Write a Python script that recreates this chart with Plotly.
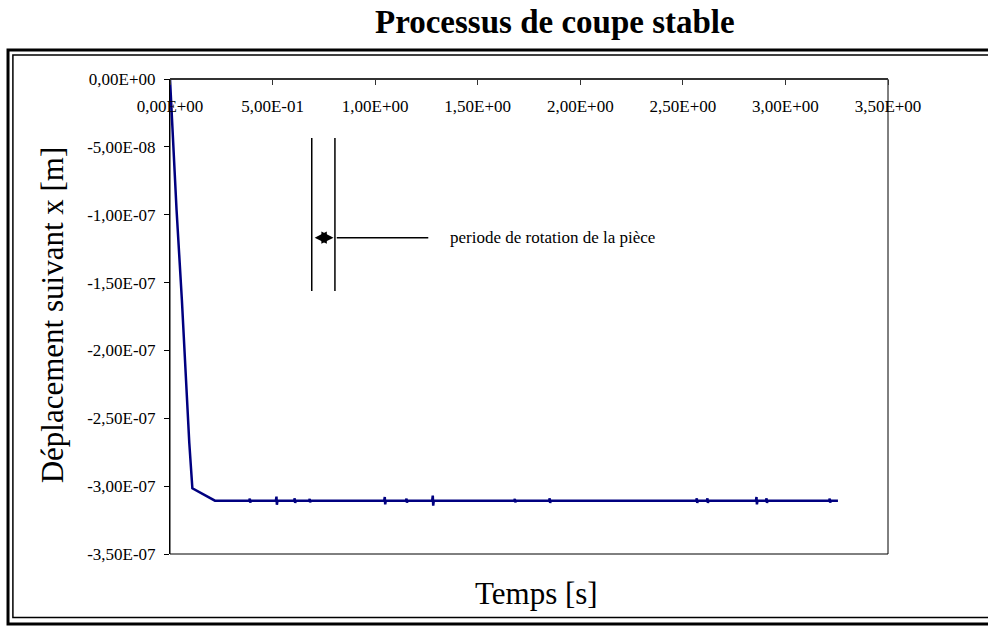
import plotly.graph_objects as go

# ---- data (time in s, displacement in m) ----
time_s = [0.000, 0.032, 0.058, 0.073, 0.094, 0.109, 0.219,
          0.386, 0.389, 0.391, 0.394,
          0.516, 0.519, 0.521, 0.524,
          0.605, 0.608, 0.610, 0.613,
          0.678, 0.681, 0.683, 0.686,
          1.044, 1.047, 1.049, 1.052,
          1.150, 1.153, 1.155, 1.158,
          1.278, 1.281, 1.283, 1.286,
          1.678, 1.681, 1.683, 1.686,
          1.848, 1.851, 1.853, 1.856,
          2.565, 2.568, 2.570, 2.573,
          2.617, 2.620, 2.622, 2.625,
          2.856, 2.859, 2.861, 2.864,
          2.905, 2.908, 2.910, 2.913,
          3.213, 3.216, 3.218, 3.221,
          3.256]
displacement_m = [0.0, -0.965e-07, -1.63e-07, -2.07e-07, -2.68e-07, -3.016e-07, -3.107e-07,
                  -3.107e-07, -3.092e-07, -3.122e-07, -3.107e-07,
                  -3.107e-07, -3.077e-07, -3.137e-07, -3.107e-07,
                  -3.107e-07, -3.090e-07, -3.124e-07, -3.107e-07,
                  -3.107e-07, -3.094e-07, -3.120e-07, -3.107e-07,
                  -3.107e-07, -3.080e-07, -3.134e-07, -3.107e-07,
                  -3.107e-07, -3.092e-07, -3.122e-07, -3.107e-07,
                  -3.107e-07, -3.070e-07, -3.144e-07, -3.107e-07,
                  -3.107e-07, -3.094e-07, -3.120e-07, -3.107e-07,
                  -3.107e-07, -3.090e-07, -3.124e-07, -3.107e-07,
                  -3.107e-07, -3.090e-07, -3.124e-07, -3.107e-07,
                  -3.107e-07, -3.090e-07, -3.124e-07, -3.107e-07,
                  -3.107e-07, -3.080e-07, -3.134e-07, -3.107e-07,
                  -3.107e-07, -3.090e-07, -3.124e-07, -3.107e-07,
                  -3.107e-07, -3.092e-07, -3.122e-07, -3.107e-07,
                  -3.107e-07]

x_tickvals = [0.0, 0.5, 1.0, 1.5, 2.0, 2.5, 3.0, 3.5]
x_ticktext = ["0,00E+00", "5,00E-01", "1,00E+00", "1,50E+00", "2,00E+00",
              "2,50E+00", "3,00E+00", "3,50E+00"]
y_tickvals = [0.0, -5e-08, -1e-07, -1.5e-07, -2e-07, -2.5e-07, -3e-07, -3.5e-07]
y_ticktext = ["0,00E+00", "-5,00E-08", "-1,00E-07", "-1,50E-07", "-2,00E-07",
              "-2,50E-07", "-3,00E-07", "-3,50E-07"]

FONT = "Liberation Serif, Times New Roman, serif"

fig = go.Figure()
fig.add_trace(go.Scatter(x=time_s, y=displacement_m, mode="lines",
                         line=dict(color="#000080", width=2.5), showlegend=False,
                         hoverinfo="skip"))

fig.update_layout(
    width=988, height=627,
    margin=dict(l=170, r=100, t=79, b=73),
    paper_bgcolor="white", plot_bgcolor="white",
    font=dict(family=FONT, color="black", size=17),
    showlegend=False,
)

# x axis drawn along the top edge (y = 0), labels hanging below it
fig.update_xaxes(range=[0, 3.5], side="bottom", anchor="free", position=1,
                 tickvals=x_tickvals, ticktext=x_ticktext,
                 ticks="outside", ticklen=5, tickcolor="#333",
                 ticklabelstandoff=7,
                 showline=True, linecolor="#333", linewidth=2,
                 showgrid=False, zeroline=False, tickfont=dict(size=17, family=FONT))
fig.update_yaxes(range=[-3.5e-07, 0], domain=[0, 1], tickvals=y_tickvals, ticktext=y_ticktext,
                 ticks="outside", ticklen=5, tickcolor="black",
                 ticklabelstandoff=5,
                 showline=True, linecolor="black", linewidth=1,
                 showgrid=False, zeroline=False, tickfont=dict(size=17, family=FONT))

shapes = []
# plot-area box (right and bottom edges)
shapes.append(dict(type="rect", xref="x domain", yref="y domain",
                   x0=0, x1=1, y0=0, y1=1, layer="below",
                   line=dict(color="black", width=1)))
# outer double frame
shapes.append(dict(type="rect", xref="paper", yref="paper",
                   x0=-0.2256, x1=1.16, y0=-0.1474, y1=1.0611,
                   line=dict(color="black", width=3)))
shapes.append(dict(type="rect", xref="paper", yref="paper",
                   x0=-0.2188, x1=1.15, y0=-0.1337, y1=1.0505,
                   line=dict(color="black", width=1.5)))
# period marker lines
for tx in [0.691, 0.804]:
    shapes.append(dict(type="line", xref="x", yref="y", x0=tx, x1=tx,
                       y0=-0.435e-07, y1=-1.562e-07,
                       line=dict(color="black", width=1.5)))
shapes.append(dict(type="line", xref="x", yref="y", x0=0.813, x1=1.259,
                   y0=-1.169e-07, y1=-1.169e-07, line=dict(color="black", width=1.5)))
fig.update_layout(shapes=shapes)

annotations = [
    dict(text="<b>Processus de coupe stable</b>", xref="paper", yref="paper",
         x=0.536, y=1.12, xanchor="center", yanchor="middle", showarrow=False,
         font=dict(size=33, family=FONT, color="black")),
    dict(text="Déplacement suivant x [m]", xref="paper", yref="paper",
         x=-0.164, y=0.503, xanchor="center", yanchor="middle", textangle=-90,
         showarrow=False, font=dict(size=31, family=FONT, color="black")),
    dict(text="Temps [s]", xref="paper", yref="paper",
         x=0.511, y=-0.084, xanchor="center", yanchor="middle", showarrow=False,
         font=dict(size=31, family=FONT, color="black")),
    dict(text="periode de rotation de la pièce", xref="x", yref="y",
         x=1.355, y=-1.169e-07, xanchor="left", yanchor="middle", showarrow=False,
         font=dict(size=17, family=FONT, color="black")),
    dict(text="", xref="x", yref="y", x=0.797, y=-1.169e-07,
         axref="x", ayref="y", ax=0.698, ay=-1.169e-07,
         showarrow=True, arrowside="end+start", arrowhead=2, arrowsize=1.1,
         arrowwidth=2.2, arrowcolor="black"),
]
fig.update_layout(annotations=annotations)

fig.write_html("out.html")
